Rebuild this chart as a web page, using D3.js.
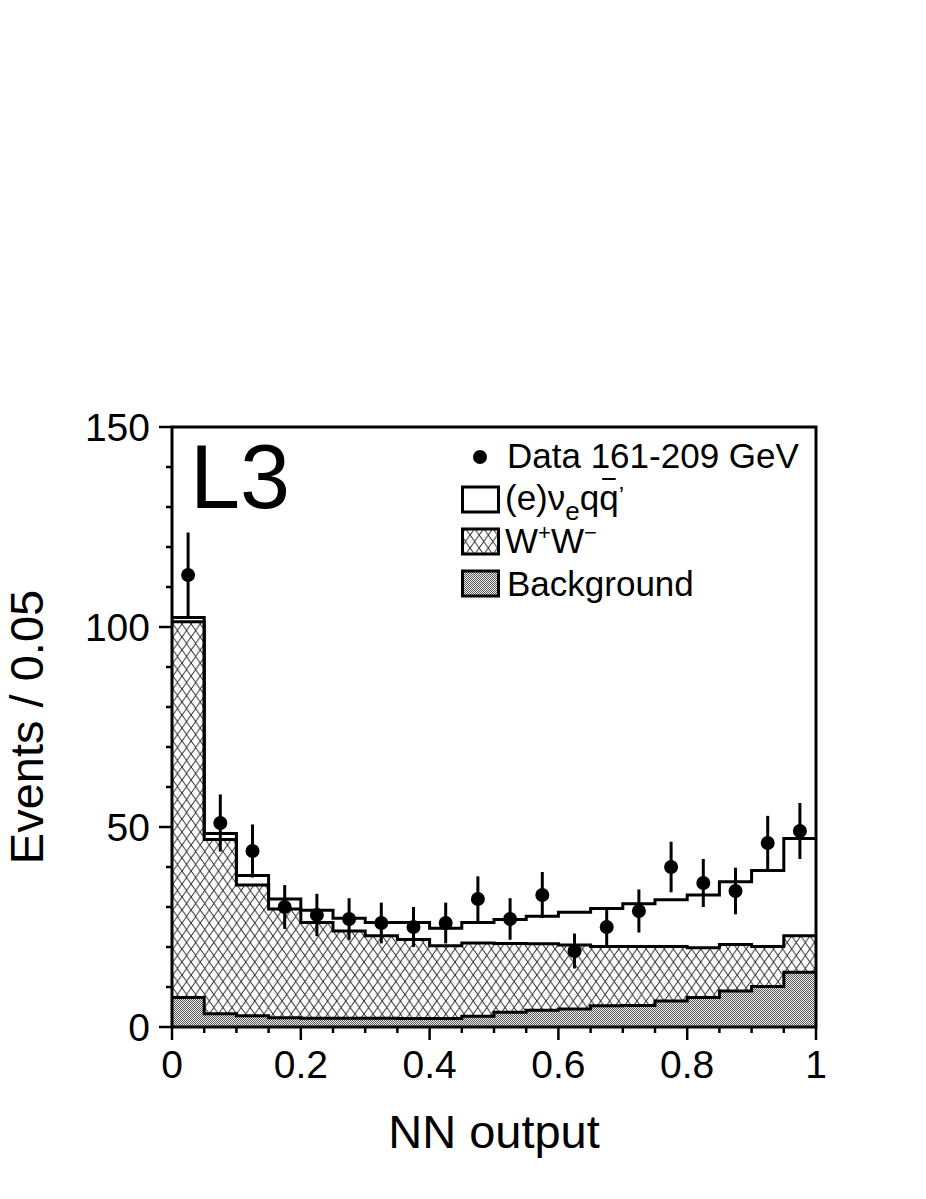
<!DOCTYPE html>
<html>
<head>
<meta charset="utf-8">
<script src="https://cdn.jsdelivr.net/npm/d3@7"></script>
<style>
  body { margin: 0; background: #fff; }
  svg text { font-family: "Liberation Sans", Arial, Helvetica, sans-serif; fill: #000; }
</style>
</head>
<body>
<div class="canvas"></div>
<script>
// bin lower edges of NN output (width 0.05)
const binStart = [0, 0.05, 0.1, 0.15, 0.2, 0.25, 0.3, 0.35, 0.4, 0.45,
                  0.5, 0.55, 0.6, 0.65, 0.7, 0.75, 0.8, 0.85, 0.9, 0.95];
const binWidth = 0.05;

// observed events per bin
const dataCounts = [113, 51, 44, 30, 28, 27, 26, 25, 26, 32,
                    27, 33, 19, 25, 29, 40, 36, 34, 46, 49];

// MC expectations (stacked: background, W+W-, signal)
const background = [7.4, 3.3, 2.8, 2.3, 2.2, 2.2, 2.2, 2.1, 2.1, 2.7,
                    3.7, 4.2, 4.5, 5.3, 5.4, 6.5, 7.4, 9.0, 10.1, 13.7];
const wwPairs    = [93.9, 43.6, 32.7, 27.2, 23.9, 21.8, 20.6, 19.8, 18.2, 18.3,
                    17.2, 16.6, 16.0, 14.8, 14.7, 13.6, 12.4, 11.6, 10.0, 9.1];
const signal     = [1.1, 1.5, 2.4, 2.5, 3.1, 3.2, 3.3, 4.2, 4.4, 5.1,
                    6.0, 6.9, 8.2, 9.5, 10.7, 11.7, 13.2, 15.7, 19.0, 24.3];

const xTicks = [0, 0.2, 0.4, 0.6, 0.8, 1];
const xTickLabels = ['0', '0.2', '0.4', '0.6', '0.8', '1'];
const yTicks = [0, 50, 100, 150];
const legendLabels = ['Data 161-209 GeV', 'signal', 'ww', 'Background'];

const dims = { width: 926, height: 1199 };
const plot = { left: 172, right: 816, top: 427, bottom: 1027 };

const svg = d3.select('.canvas')
  .append('svg')
  .attr('width', dims.width)
  .attr('height', dims.height);

const x = d3.scaleLinear().domain([0, 1]).range([plot.left, plot.right]);
const y = d3.scaleLinear().domain([0, 150]).range([plot.bottom, plot.top]);

// patterns
const defs = svg.append('defs');
const hatch = defs.append('pattern')
  .attr('id', 'hatch')
  .attr('patternUnits', 'userSpaceOnUse')
  .attr('width', 9.1).attr('height', 13);
hatch.append('path')
  .attr('d', 'M0,0 L9.1,13 M9.1,0 L0,13 M-9.1,0 L0,13 M9.1,13 L18.2,26')
  .attr('stroke', '#2a2a2a')
  .attr('stroke-width', 1)
  .attr('fill', 'none');

const dots = defs.append('pattern')
  .attr('id', 'dots')
  .attr('patternUnits', 'userSpaceOnUse')
  .attr('width', 2).attr('height', 2);
dots.append('rect').attr('width', 2).attr('height', 2).attr('fill', '#ededed');
dots.append('rect').attr('width', 1).attr('height', 1).attr('fill', '#5a5a5a');
dots.append('rect').attr('x', 1).attr('y', 1).attr('width', 1).attr('height', 1).attr('fill', '#5a5a5a');

// stack the MC
const table = binStart.map((b, i) => ({
  x0: b, bkg: background[i], ww: wwPairs[i], sig: signal[i]
}));
const stack = d3.stack().keys(['bkg', 'ww', 'sig']);
const layers = stack(table);

// add closing point at x=1 for step curves
const withEnd = arr => arr.concat([{ ...arr[arr.length - 1], x0: binStart[binStart.length - 1] + binWidth }]);

const area = d3.area()
  .curve(d3.curveStepAfter)
  .x(d => x(d.x0))
  .y0(d => y(d.lo))
  .y1(d => y(d.hi));

const line = d3.line()
  .curve(d3.curveStepAfter)
  .x(d => x(d.x0))
  .y(d => y(d.hi));

const fills = { bkg: 'url(#dots)', ww: 'url(#hatch)', sig: '#fff' };

const graph = svg.append('g');

// fills first, then outlines on top
[...layers].reverse().forEach(layer => {
  const pts = withEnd(layer.map((d, i) => ({ x0: binStart[i], lo: d[0], hi: d[1] })));
  graph.append('path')
    .attr('d', area(pts))
    .attr('fill', fills[layer.key])
    .attr('stroke', 'none');
});
layers.forEach(layer => {
  const pts = withEnd(layer.map((d, i) => ({ x0: binStart[i], lo: d[0], hi: d[1] })));
  graph.append('path')
    .attr('d', line(pts))
    .attr('fill', 'none')
    .attr('stroke', '#000')
    .attr('stroke-width', 3);
});

// data points with sqrt(N) errors
const pts = graph.selectAll('g.pt')
  .data(dataCounts)
  .enter().append('g').attr('class', 'pt');
pts.append('line')
  .attr('x1', (d, i) => x(binStart[i] + binWidth / 2))
  .attr('x2', (d, i) => x(binStart[i] + binWidth / 2))
  .attr('y1', d => y(d - Math.sqrt(d)))
  .attr('y2', d => y(d + Math.sqrt(d)))
  .attr('stroke', '#000')
  .attr('stroke-width', 3);
pts.append('circle')
  .attr('cx', (d, i) => x(binStart[i] + binWidth / 2))
  .attr('cy', d => y(d))
  .attr('r', 7)
  .attr('fill', '#000');

// frame
svg.append('rect')
  .attr('x', plot.left).attr('y', plot.top)
  .attr('width', plot.right - plot.left)
  .attr('height', plot.bottom - plot.top)
  .attr('fill', 'none')
  .attr('stroke', '#000')
  .attr('stroke-width', 3);

// y axis ticks (outward)
const yAxis = svg.append('g');
yAxis.selectAll('line')
  .data(d3.range(0, 151, 10))
  .enter().append('line')
  .attr('x1', plot.left)
  .attr('x2', d => plot.left - (d % 50 === 0 ? 13 : 6))
  .attr('y1', d => y(d)).attr('y2', d => y(d))
  .attr('stroke', '#000').attr('stroke-width', 2.5);
yAxis.selectAll('text')
  .data(yTicks)
  .enter().append('text')
  .attr('x', plot.left - 22)
  .attr('y', d => y(d))
  .attr('dy', '0.36em')
  .attr('text-anchor', 'end')
  .attr('font-size', 39)
  .text(d => d);

// x axis ticks (outward)
const xAxis = svg.append('g');
xAxis.selectAll('line')
  .data(d3.range(0, 21))
  .enter().append('line')
  .attr('x1', d => x(d * binWidth)).attr('x2', d => x(d * binWidth))
  .attr('y1', plot.bottom)
  .attr('y2', d => plot.bottom + (d % 4 === 0 ? 13 : 6))
  .attr('stroke', '#000').attr('stroke-width', 2.5);
xAxis.selectAll('text')
  .data(xTicks)
  .enter().append('text')
  .attr('x', d => x(d))
  .attr('y', 1078)
  .attr('text-anchor', 'middle')
  .attr('font-size', 39)
  .text((d, i) => xTickLabels[i]);

// axis titles
svg.append('text')
  .attr('x', (plot.left + plot.right) / 2)
  .attr('y', 1148)
  .attr('text-anchor', 'middle')
  .attr('font-size', 47)
  .text('NN output');

svg.append('text')
  .attr('transform', `translate(43, ${(plot.top + plot.bottom) / 2}) rotate(-90)`)
  .attr('text-anchor', 'middle')
  .attr('font-size', 47)
  .text('Events / 0.05');

// experiment label
svg.append('text')
  .attr('x', 190)
  .attr('y', 508)
  .attr('font-size', 90)
  .text('L3');

// legend
const legend = svg.append('g').attr('transform', 'translate(461, 457)');
const rowH = 42;

legend.append('circle').attr('cx', 19).attr('cy', 0).attr('r', 7).attr('fill', '#000');
legend.append('text').attr('x', 46).attr('y', 11).attr('font-size', 35).text(legendLabels[0]);

[['sig', 1], ['ww', 2], ['bkg', 3]].forEach(([key, i]) => {
  legend.append('rect')
    .attr('x', 1.5).attr('y', i * rowH - 12)
    .attr('width', 36).attr('height', 25)
    .attr('fill', fills[key])
    .attr('stroke', '#000').attr('stroke-width', 3);
});

// (e) nu_e q qbar'
const sigText = legend.append('text')
  .attr('x', 44).attr('y', rowH + 11)
  .attr('font-size', 35);
sigText.append('tspan').text('(e)\u03bd');
sigText.append('tspan').attr('dy', 10).attr('font-size', 26).text('e');
sigText.append('tspan').attr('dy', -10).text('qq');
sigText.append('tspan').attr('dy', -6).attr('font-size', 24).text('\u2019');

const qExt = sigText.node().getExtentOfChar(6);
legend.append('line')
  .attr('x1', qExt.x + 3).attr('x2', qExt.x + qExt.width - 3)
  .attr('y1', rowH - 20).attr('y2', rowH - 20)
  .attr('stroke', '#000').attr('stroke-width', 2);

// W+ W-
const wwText = legend.append('text')
  .attr('x', 44).attr('y', 2 * rowH + 12)
  .attr('font-size', 35);
wwText.append('tspan').text('W');
wwText.append('tspan').attr('dy', -13).attr('font-size', 22).text('+');
wwText.append('tspan').attr('dy', 13).text('W');
wwText.append('tspan').attr('dy', -13).attr('font-size', 22).text('\u2212');

legend.append('text').attr('x', 46).attr('y', 3 * rowH + 13).attr('font-size', 35).text(legendLabels[3]);
</script>
</body>
</html>
